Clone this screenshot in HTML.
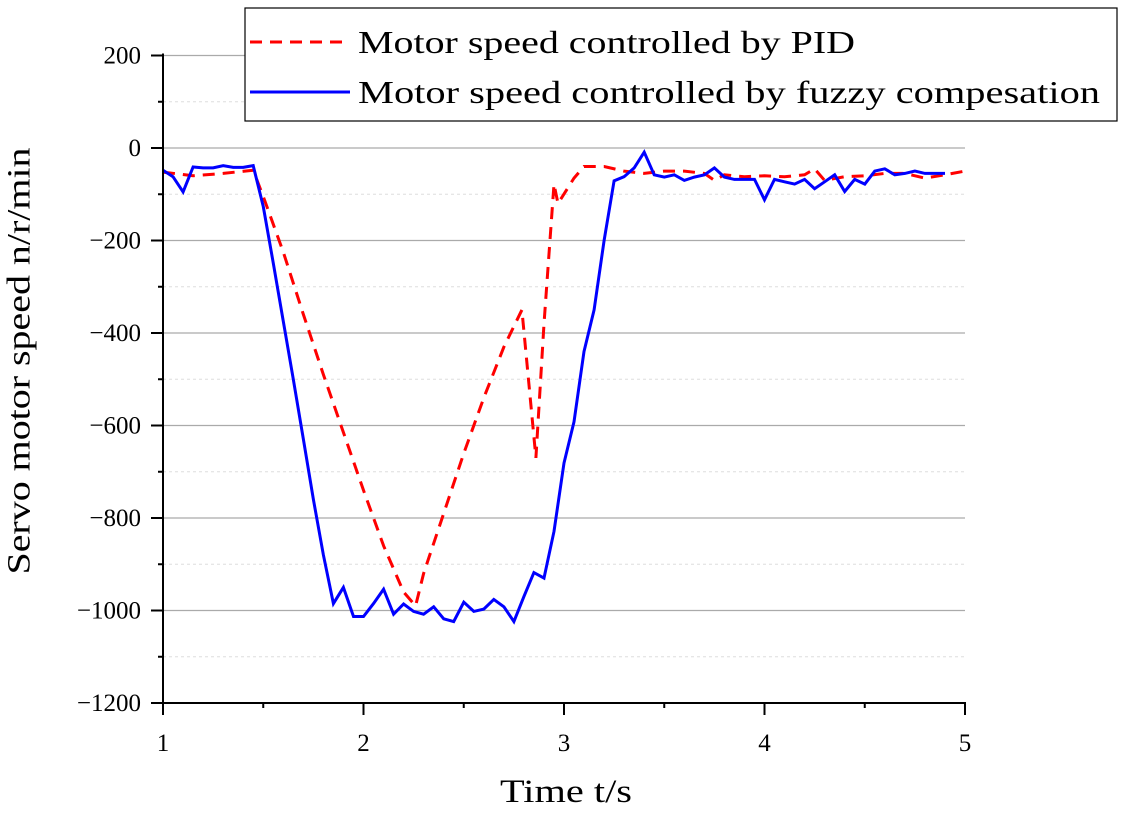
<!DOCTYPE html>
<html><head><meta charset="utf-8"><style>
body{margin:0;background:#fff;}
svg text{font-family:"Liberation Serif","DejaVu Serif",serif;}
</style></head><body>
<svg id="chart" width="1123" height="810" viewBox="0 0 1123 810" xmlns="http://www.w3.org/2000/svg">
<g id="grid"></g>
<g id="series"></g>
<g id="axes"></g>
<text x="22" y="361" font-size="33" text-anchor="middle" textLength="427" lengthAdjust="spacingAndGlyphs" transform="rotate(-90 22 361)" dominant-baseline="middle">Servo motor speed n/r/min</text>
<text x="566" y="802" font-size="33" text-anchor="middle" textLength="132" lengthAdjust="spacingAndGlyphs">Time t/s</text>
<g>
<rect x="245" y="8" width="872" height="113" fill="#fff" stroke="#000" stroke-width="1.2"/>
<line x1="250" y1="42" x2="350" y2="42" stroke="#ff0000" stroke-width="3" stroke-dasharray="12,8"/>
<text x="358" y="53" font-size="32" textLength="497" lengthAdjust="spacingAndGlyphs">Motor speed controlled by PID</text>
<line x1="250" y1="92" x2="350" y2="92" stroke="#0000ff" stroke-width="3"/>
<text x="358" y="103" font-size="32" textLength="742" lengthAdjust="spacingAndGlyphs">Motor speed controlled by fuzzy compesation</text>
</g>
</svg>
<script>
const pidT=[1,1.15,1.3,1.45,1.5,1.6,1.7,1.8,1.9,2.0,2.1,2.2,2.26,2.3,2.4,2.5,2.6,2.7,2.79,2.86,2.9,2.95,2.97,3.05,3.1,3.2,3.3,3.4,3.5,3.6,3.7,3.75,3.8,3.9,4.0,4.1,4.2,4.25,4.3,4.4,4.5,4.6,4.7,4.8,4.9,5.0];
const pidV=[-52,-60,-55,-48,-105,-225,-360,-490,-615,-740,-860,-960,-990,-920,-790,-660,-540,-430,-350,-670,-380,-78,-120,-65,-40,-40,-50,-55,-50,-50,-55,-70,-58,-62,-60,-62,-58,-45,-70,-62,-60,-55,-55,-65,-58,-50];
const fuzzyT=[1,1.05,1.1,1.15,1.2,1.25,1.3,1.35,1.4,1.45,1.5,1.55,1.6,1.65,1.7,1.75,1.8,1.85,1.9,1.95,2.0,2.05,2.1,2.15,2.2,2.25,2.3,2.35,2.4,2.45,2.5,2.55,2.6,2.65,2.7,2.75,2.8,2.85,2.9,2.95,3.0,3.05,3.1,3.15,3.2,3.25,3.3,3.35,3.4,3.45,3.5,3.55,3.6,3.65,3.7,3.75,3.8,3.85,3.9,3.95,4.0,4.05,4.1,4.15,4.2,4.25,4.3,4.35,4.4,4.45,4.5,4.55,4.6,4.65,4.7,4.75,4.8,4.85,4.9];
const fuzzyV=[-48,-62,-95,-41,-43,-43,-38,-42,-42,-38,-127,-249,-375,-500,-630,-760,-880,-985,-950,-1013,-1013,-985,-954,-1008,-986,-1002,-1008,-992,-1018,-1024,-982,-1002,-997,-976,-992,-1024,-970,-918,-930,-829,-681,-592,-440,-350,-200,-71,-62,-43,-9,-58,-63,-58,-70,-63,-58,-43,-63,-68,-68,-68,-112,-68,-73,-78,-68,-88,-73,-58,-94,-68,-78,-50,-45,-58,-55,-50,-55,-55,-55];
const xTicks=[1,2,3,4,5];
const yTicks=[200,0,-200,-400,-600,-800,-1000,-1200];
const yMinor=[100,-100,-300,-500,-700,-900,-1100];
const xMinor=[1.5,2.5,3.5,4.5];
const NS="http://www.w3.org/2000/svg";
const X0=163,X1=965,Y0=703,Y1=55.5;
const xs=t=>X0+(t-1)/4*(X1-X0);
const ys=v=>Y0-(v+1200)/1400*(Y0-Y1);
function mk(tag,attrs,parent){const e=document.createElementNS(NS,tag);for(const k in attrs)e.setAttribute(k,attrs[k]);parent.appendChild(e);return e;}
const grid=document.getElementById('grid'),axes=document.getElementById('axes'),series=document.getElementById('series');
yTicks.forEach(v=>{if(v===-1200)return;const l=mk('line',{x1:X0,x2:X1,y1:ys(v),y2:ys(v),stroke:'#aaa','stroke-width':1.2},grid);

});
yMinor.forEach(v=>{const l=mk('line',{x1:X0,x2:X1,y1:ys(v),y2:ys(v),stroke:'#ddd','stroke-width':1,'stroke-dasharray':'3,3'},grid);

});
function poly(T,V,color,dash,name){const pts=T.map((t,i)=>xs(t).toFixed(1)+','+ys(V[i]).toFixed(1)).join(' ');
const p=mk('polyline',{points:pts,fill:'none',stroke:color,'stroke-width':3,'stroke-linejoin':'miter'},series);
if(dash)p.setAttribute('stroke-dasharray',dash);

}
poly(pidT,pidV,'#ff0000','12,8','pid-line');
poly(fuzzyT,fuzzyV,'#0000ff',null,'fuzzy-line');
const ya=mk('line',{x1:X0,x2:X0,y1:Y1-2,y2:Y0+1,stroke:'#000','stroke-width':2},axes);


const xa=mk('line',{x1:X0-1,x2:X1+1,y1:Y0,y2:Y0,stroke:'#000','stroke-width':2},axes);


yTicks.forEach(v=>{const y=ys(v);mk('line',{x1:X0-12,x2:X0,y1:y,y2:y,stroke:'#000','stroke-width':2},axes);
const t=mk('text',{x:X0-22,y:y+8,'font-size':25,'text-anchor':'end'},axes);t.textContent=(v<0?'\u2212'+(-v):v);

});
yMinor.forEach(v=>{mk('line',{x1:X0-5,x2:X0,y1:ys(v),y2:ys(v),stroke:'#000','stroke-width':2},axes);});
xTicks.forEach(v=>{const x=xs(v);mk('line',{x1:x,x2:x,y1:Y0,y2:Y0+12,stroke:'#000','stroke-width':2},axes);
const t=mk('text',{x:x,y:Y0+48,'font-size':25,'text-anchor':'middle'},axes);t.textContent=v;

});
xMinor.forEach(v=>{mk('line',{x1:xs(v),x2:xs(v),y1:Y0,y2:Y0+5,stroke:'#000','stroke-width':2},axes);});
</script>
</body></html>
